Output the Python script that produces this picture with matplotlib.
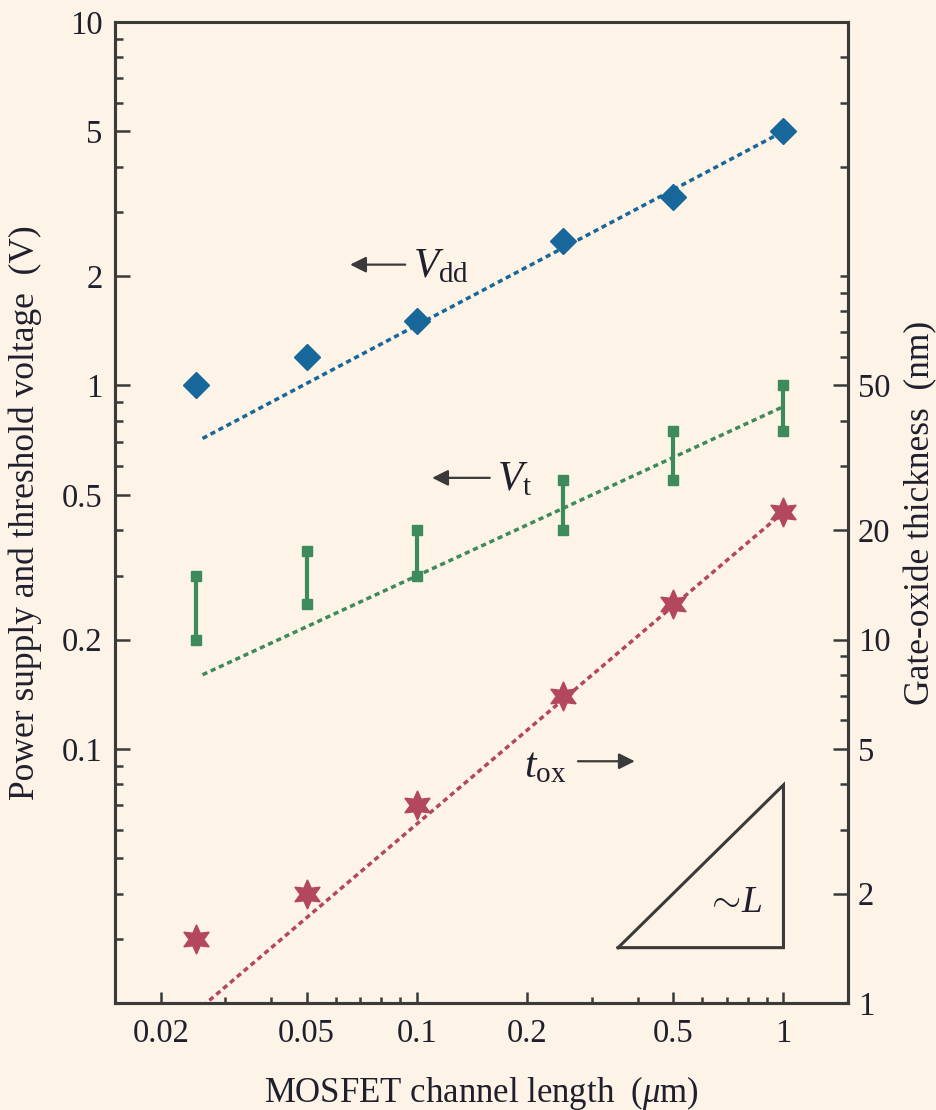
import matplotlib
matplotlib.use("Agg")
import matplotlib.pyplot as plt
from matplotlib.ticker import FixedLocator, FixedFormatter, NullFormatter

plt.rcParams['font.family'] = ['Liberation Serif', 'DejaVu Serif']
plt.rcParams['mathtext.fontset'] = 'custom'
plt.rcParams['mathtext.rm'] = 'Liberation Serif'
plt.rcParams['mathtext.it'] = 'Liberation Serif:italic'

# ---- data ----
L = [0.025, 0.05, 0.1, 0.25, 0.5, 1.0]          # channel length (um)
vdd = [1.0, 1.2, 1.5, 2.5, 3.3, 5.0]            # V
vt_low = [0.2, 0.25, 0.3, 0.4, 0.55, 0.75]      # V
vt_high = [0.3, 0.35, 0.4, 0.55, 0.75, 1.0]     # V
tox = [1.5, 2.0, 3.5, 7.0, 12.5, 22.5]          # nm

fit_x = [0.026, 1.0]
vdd_fit = [0.715, 5.0]
vt_fit = [0.16, 0.875]
tox_fit = [0.98, 22.4]

tri_x = [0.354, 1.0, 1.0, 0.354]
tri_y = [0.0284, 0.0284, 0.0796, 0.0284]

x_ticks = [0.02, 0.05, 0.1, 0.2, 0.5, 1]
x_ticklabels = ['0.02', '0.05', '0.1', '0.2', '0.5', '1']
yl_ticks = [0.1, 0.2, 0.5, 1, 2, 5, 10]
yl_ticklabels = ['0.1', '0.2', '0.5', '1', '2', '5', '10']
yr_ticks = [1, 2, 5, 10, 20, 50]
yr_ticklabels = ['1', '2', '5', '10', '20', '50']

# ---- style ----
bg = '#FDF3E6'
ink = '#3a3a3a'
txt = '#1f1f2e'
blue = '#17679B'
green = '#3D8A5C'
red = '#B3475E'

fig = plt.figure(figsize=(9.36, 11.1), dpi=100, facecolor=bg)
ax = fig.add_axes([115/936, 1-1003/1110, (848-115)/936, (1003-22)/1110])
ax.set_facecolor(bg)
ax.set_xscale('log'); ax.set_yscale('log')
ax.set_xlim(0.015, 1.5); ax.set_ylim(0.02, 10)

ax2 = ax.twinx()
ax2.set_yscale('log'); ax2.set_ylim(1, 500)

for a in (ax, ax2):
    for s in a.spines.values():
        s.set_color(ink); s.set_linewidth(2.2)
ax2.spines['top'].set_visible(False)

# ticks
ax.xaxis.set_major_locator(FixedLocator(x_ticks))
ax.xaxis.set_major_formatter(FixedFormatter(x_ticklabels))
xminor = [m*d for d in (0.01, 0.1, 1) for m in (2, 3, 4, 5, 6, 7, 8, 9)
          if round(m*d, 6) not in x_ticks and 0.015 < m*d < 1.5]
ax.xaxis.set_minor_locator(FixedLocator(xminor))
ax.xaxis.set_minor_formatter(NullFormatter())

ax.yaxis.set_major_locator(FixedLocator(yl_ticks))
ax.yaxis.set_major_formatter(FixedFormatter(yl_ticklabels))
ylminor = [m*d for d in (0.01, 0.1, 1) for m in (2, 3, 4, 5, 6, 7, 8, 9)
           if round(m*d, 6) not in yl_ticks and 0.02 < m*d < 10]
ax.yaxis.set_minor_locator(FixedLocator(ylminor))
ax.yaxis.set_minor_formatter(NullFormatter())

ax2.yaxis.set_major_locator(FixedLocator(yr_ticks))
ax2.yaxis.set_major_formatter(FixedFormatter(yr_ticklabels))
yrminor = [m*d for d in (1, 10, 100) for m in (1, 2, 3, 4, 5, 6, 7, 8, 9)
           if m*d not in yr_ticks and 1 < m*d < 500]
ax2.yaxis.set_minor_locator(FixedLocator(yrminor))
ax2.yaxis.set_minor_formatter(NullFormatter())

ax.tick_params(axis='x', which='major', direction='in', length=8, width=1.8, color=ink,
               top=False, bottom=True, labelsize=23.5, labelcolor=txt, pad=11)
ax.tick_params(axis='x', which='minor', direction='in', length=4, width=1.8, color=ink, top=False)
ax.tick_params(axis='y', which='major', direction='in', length=11, width=1.8, color=ink,
               left=True, right=False, labelsize=23.5, labelcolor=txt, pad=9)
ax.tick_params(axis='y', which='minor', direction='in', length=6, width=1.8, color=ink, right=False)
ax2.tick_params(axis='y', which='major', direction='in', length=11, width=1.8, color=ink,
                labelsize=23.5, labelcolor=txt, pad=7)
ax2.tick_params(axis='y', which='minor', direction='in', length=6, width=1.8, color=ink)

# ---- data marks ----
dot = (0, (1.5, 1.1))
ax.plot(fit_x, vdd_fit, linestyle=dot, color=blue, lw=2.5, zorder=2)
ax.plot(L, vdd, linestyle='none', marker='D', ms=13.5, color=blue, zorder=3)

ax.plot(fit_x, vt_fit, linestyle=dot, color=green, lw=2.5, zorder=2)
ax.vlines(L, vt_low, vt_high, color=green, lw=3.0, zorder=3)
ax.plot(L, vt_low, linestyle='none', marker='s', ms=7, color=green, zorder=3)
ax.plot(L, vt_high, linestyle='none', marker='s', ms=7, color=green, zorder=3)

ax2.plot(fit_x, tox_fit, linestyle=dot, color=red, lw=2.5, zorder=2)
ax2.plot(L, tox, linestyle='none', marker=(6, 1, 0), ms=21, color=red, zorder=3)

# triangle
ax.plot(tri_x, tri_y, color=ink, lw=2.2, solid_joinstyle='miter')
ax.text(0.735, 0.0378, r'$\sim\!L$', fontsize=27, color=txt, ha='center', va='center')

# annotations
arrow = dict(arrowstyle='-|>', color=ink, lw=1.6, mutation_scale=24, shrinkA=0, shrinkB=0)
ax.annotate('', xy=(0.0657, 2.15), xytext=(0.0929, 2.15), arrowprops=arrow)
ax.text(0.0975, 2.12, r'$V_{\mathrm{dd}}$', fontsize=30, color=txt, ha='left', va='center')
ax.annotate('', xy=(0.110, 0.557), xytext=(0.158, 0.557), arrowprops=arrow)
ax.text(0.165, 0.55, r'$V_{\mathrm{t}}$', fontsize=30, color=txt, ha='left', va='center')
ax.annotate('', xy=(0.393, 0.0925), xytext=(0.275, 0.0925), arrowprops=arrow)
ax.text(0.196, 0.089, r'$t_{\mathrm{ox}}$', fontsize=30, color=txt, ha='left', va='center')

# labels
ax.set_xlabel(r'MOSFET channel length  ($\mu$m)', fontsize=25, color=txt, labelpad=18)
ax.set_ylabel('Power supply and threshold voltage  (V)', fontsize=25.5, color=txt, labelpad=14)
ax2.set_ylabel('Gate-oxide thickness  (nm)', fontsize=25.5, color=txt, labelpad=10)

fig.savefig('out.png', dpi=100, facecolor=bg)
